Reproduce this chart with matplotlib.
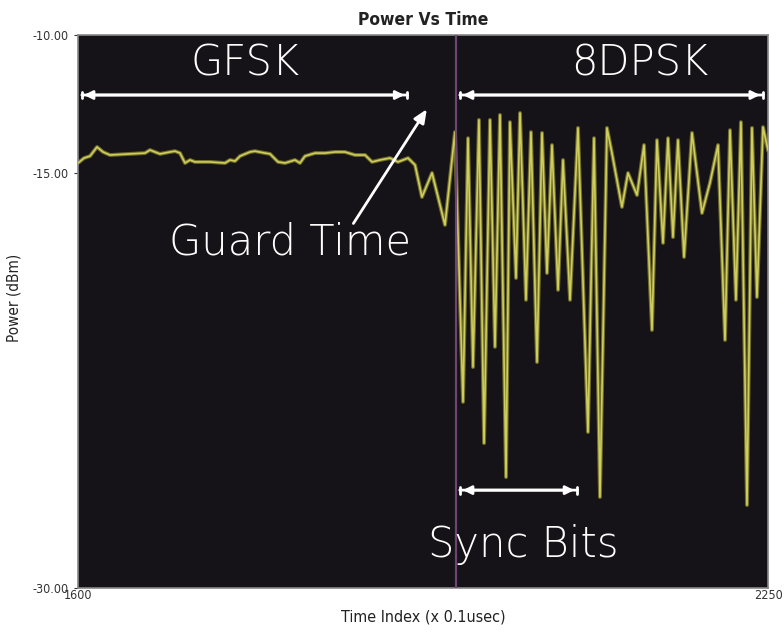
import matplotlib
matplotlib.use("Agg")
import matplotlib.pyplot as plt

# GFSK portion + guard time (Time Index, Power dBm)
gfsk_t = [1600.0, 1605.7, 1611.3, 1617.9, 1623.6, 1630.1, 1649.0, 1663.1, 1667.8, 1677.2,
          1686.7, 1691.4, 1696.1, 1700.8, 1705.5, 1710.2, 1724.3, 1738.5, 1743.2, 1747.9,
          1752.6, 1762.0, 1766.7, 1776.2, 1780.9, 1788.4, 1795.0, 1804.4, 1809.1, 1813.8,
          1823.3, 1832.7, 1842.1, 1851.5, 1860.9, 1870.4, 1877.0, 1884.5, 1893.9, 1901.4,
          1910.9, 1917.5, 1924.0, 1933.5, 1945.7]
gfsk_p = [-14.63, -14.45, -14.38, -14.05, -14.23, -14.34, -14.30, -14.27, -14.16, -14.30,
          -14.23, -14.20, -14.27, -14.63, -14.52, -14.59, -14.59, -14.63, -14.52, -14.56,
          -14.38, -14.23, -14.20, -14.27, -14.30, -14.59, -14.63, -14.52, -14.63, -14.38,
          -14.27, -14.27, -14.23, -14.23, -14.34, -14.34, -14.59, -14.52, -14.45, -14.59,
          -14.45, -14.70, -15.86, -14.99, -16.87]

# 8DPSK portion
dpsk_t = [1955.1, 1962.7, 1967.4, 1972.1, 1977.7, 1982.5, 1988.1, 1992.8, 1997.5, 2003.2,
          2006.9, 2012.6, 2016.4, 2022.0, 2026.7, 2032.4, 2037.1, 2041.8, 2046.5, 2052.2,
          2056.9, 2063.5, 2071.0, 2080.4, 2086.1, 2091.7, 2098.3, 2103.0, 2112.4, 2118.1,
          2126.6, 2133.2, 2140.7, 2145.4, 2151.1, 2155.8, 2160.5, 2165.2, 2170.9, 2178.4,
          2187.8, 2195.3, 2202.9, 2209.5, 2214.2, 2219.8, 2224.5, 2230.2, 2234.9, 2239.6,
          2245.3, 2250.0]
dpsk_p = [-13.51, -23.27, -13.73, -22.01, -13.07, -24.76, -13.07, -21.28, -12.89, -25.99,
          -13.15, -18.79, -12.82, -19.58, -13.51, -21.83, -13.54, -18.61, -13.98, -19.22,
          -14.52, -19.58, -13.36, -24.36, -13.73, -26.71, -13.36, -14.27, -16.22, -14.99,
          -15.79, -13.98, -20.67, -13.80, -17.52, -13.73, -17.31, -13.80, -18.03, -13.54,
          -16.44, -15.35, -13.98, -21.03, -13.44, -19.58, -13.15, -27.00, -13.36, -19.48,
          -13.33, -14.16]

boundary_t = 1956
x_ticks = [1600, 2250]
y_ticks = [-10, -15, -30]

fig = plt.figure(figsize=(7.84, 6.32), dpi=100)
ax = fig.add_axes([0.0995, 0.0696, 0.8801, 0.875])
ax.set_facecolor("#151317")

t_all = gfsk_t + dpsk_t
p_all = gfsk_p + dpsk_p
ax.plot(t_all, p_all, color="#6f6d2a", lw=2.8, solid_joinstyle="round", zorder=2)
ax.plot(t_all, p_all, color="#cfcd5e", lw=1.2, solid_joinstyle="round", zorder=3)
ax.axvline(boundary_t, color="#6e4470", lw=1.6, zorder=4)

ax.set_xlim(1600, 2250)
ax.set_ylim(-30, -10)
ax.set_xticks(x_ticks)
ax.set_xticklabels([str(v) for v in x_ticks])
ax.set_yticks(y_ticks)
ax.set_yticklabels([f"{v:.2f}" for v in y_ticks])
ax.tick_params(axis="both", labelsize=9, colors="#333333", length=3, width=0.8)
ax.tick_params(axis="x", length=0, pad=1)
for lab in ax.get_xticklabels() + ax.get_yticklabels():
    lab.set_fontstretch("condensed")
for s in ax.spines.values():
    s.set_color("#888888")
    s.set_linewidth(1.2)

ax.set_title("Power Vs Time", fontsize=12.5, fontweight="bold", color="#222222", pad=7,
             fontstretch="condensed")
ax.set_xlabel("Time Index (x 0.1usec)", fontsize=11.5, color="#222222", labelpad=5,
              fontstretch="condensed")
ax.set_ylabel("Power (dBm)", fontsize=11, color="#222222",
              fontstretch="condensed")
ax.yaxis.set_label_coords(-0.082, 0.525)

big = dict(color="white", fontsize=30, family=["DejaVu Sans"], fontweight=200,
           ha="center", va="center", zorder=6)
arrow_kw = dict(arrowstyle="|-|,widthA=0.25,widthB=0.25", color="white", lw=2.0)
head_kw = dict(arrowstyle="<|-|>,head_length=0.5,head_width=0.25", color="white", lw=2.0)
ax.annotate("", xy=(1601, -12.17), xytext=(1913, -12.17), arrowprops=arrow_kw, zorder=6)
ax.annotate("", xy=(1957, -12.17), xytext=(2248, -12.17), arrowprops=arrow_kw, zorder=6)
ax.annotate("", xy=(1603, -12.17), xytext=(1910, -12.17), arrowprops=head_kw, zorder=6)
ax.annotate("", xy=(1960, -12.17), xytext=(2245, -12.17), arrowprops=head_kw, zorder=6)
ax.text(1757, -11.0, "GFSK", **big)
ax.text(2129, -11.0, "8DPSK", **big)

ax.annotate("", xy=(1930, -12.6), xytext=(1858, -16.9),
            arrowprops=dict(arrowstyle="-|>,head_length=0.8,head_width=0.35", color="white", lw=2.0), zorder=6)
ax.text(1800, -17.5, "Guard Time", **big)

ax.annotate("", xy=(1957, -26.46), xytext=(2073, -26.46), arrowprops=arrow_kw, zorder=6)
ax.annotate("", xy=(1960, -26.46), xytext=(2070, -26.46), arrowprops=head_kw, zorder=6)
ax.text(2019, -28.44, "Sync Bits", **big)

fig.savefig("out.png", dpi=100)
